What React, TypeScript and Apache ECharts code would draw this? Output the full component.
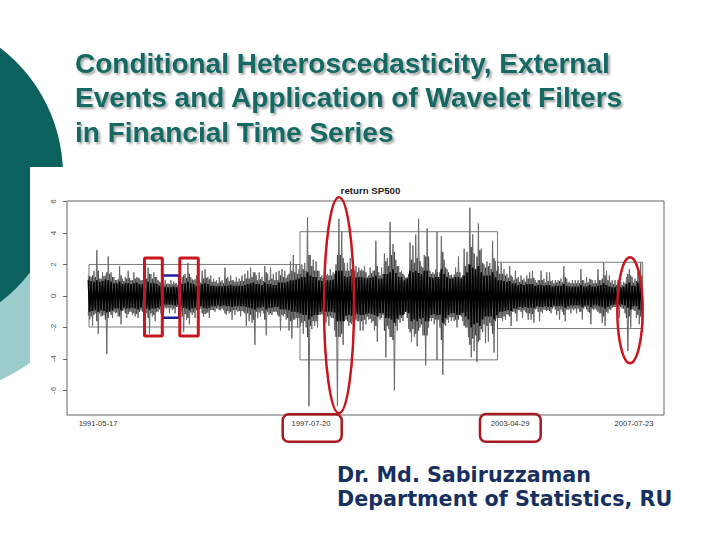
import React, { useEffect, useRef } from "react";
import * as echarts from "echarts";

// Monthly extremes of daily S&P500 returns (%), 1991-05 .. 2007-07
const hiVals: number[] = [
  // 1991 (May-Dec)
  1.3, 1.2, 1.6, 2.9, 1.1, 1.5, 1.3, 2.5,
  // 1992
  1.5, 1.2, 1.0, 1.9, 1.1, 1.2, 1.6, 1.0, 1.5, 1.2, 1.1, 1.0,
  // 1993
  1.3, 1.8, 1.4, 1.5, 1.2, 0.9, 0.9, 1.0, 0.8, 1.0, 0.9, 0.8,
  // 1994
  1.1, 1.2, 1.4, 2.1, 1.2, 1.0, 1.3, 1.0, 1.6, 1.7, 1.2, 1.3,
  // 1995
  1.1, 1.0, 1.2, 1.0, 1.8, 1.2, 1.3, 1.0, 1.2, 1.1, 1.3, 1.4,
  // 1996
  1.6, 1.8, 1.5, 1.3, 1.5, 1.2, 1.9, 1.4, 1.8, 1.4, 1.5, 1.6,
  // 1997
  1.7, 1.6, 1.3, 2.2, 2.6, 2.0, 1.7, 2.0, 2.1, 5.0, 2.6, 2.3,
  // 1998
  2.2, 1.6, 1.3, 1.6, 1.4, 1.7, 1.5, 2.0, 4.9, 4.1, 2.1, 2.1,
  // 1999
  2.4, 1.8, 1.9, 1.8, 1.7, 1.9, 1.2, 1.8, 1.6, 3.5, 1.5, 1.8,
  // 2000
  2.7, 2.4, 4.7, 3.3, 2.3, 1.9, 1.6, 1.3, 1.2, 3.4, 3.2, 3.9,
  // 2001
  4.9, 1.9, 2.6, 4.3, 1.6, 1.5, 1.7, 1.2, 3.8, 2.3, 1.7, 1.3,
  // 2002
  1.2, 1.8, 2.5, 1.2, 3.0, 2.8, 5.6, 3.9, 1.7, 4.6, 3.0, 2.0,
  // 2003
  2.2, 2.1, 3.5, 2.2, 1.9, 2.1, 1.7, 1.4, 1.9, 1.2, 1.6, 1.2,
  // 2004
  1.3, 1.1, 1.3, 1.5, 1.6, 1.0, 1.0, 1.6, 1.1, 1.5, 1.5, 1.0,
  // 2005
  1.0, 1.0, 1.1, 1.9, 1.1, 0.9, 1.0, 1.0, 1.0, 1.7, 1.0, 1.2,
  // 2006
  1.1, 1.0, 1.0, 1.7, 1.0, 2.1, 1.6, 1.3, 1.0, 1.0, 1.0, 0.9,
  // 2007 (Jan-Jul)
  0.9, 1.2, 1.7, 1.2, 1.1, 1.5, 2.1,
];

const loVals: number[] = [
  -1.5, -1.9, -1.1, -2.4, -1.3, -1.2, -3.7, -1.0,
  -1.4, -1.1, -1.3, -1.8, -0.9, -1.4, -1.0, -1.2, -1.3, -1.4, -0.9, -1.2,
  -1.1, -2.4, -1.3, -1.6, -1.0, -1.1, -1.0, -0.8, -1.1, -0.9, -1.1, -0.7,
  -1.0, -2.3, -1.5, -1.8, -1.2, -1.4, -0.9, -0.8, -1.3, -1.1, -1.4, -0.9,
  -1.0, -0.8, -0.9, -0.9, -1.2, -1.1, -1.5, -1.2, -1.0, -1.3, -1.0, -1.9,
  -1.6, -1.7, -3.1, -1.4, -1.3, -1.1, -2.5, -1.2, -1.2, -1.0, -1.2, -2.2,
  -1.3, -1.5, -2.2, -2.7, -1.5, -2.0, -1.9, -2.4, -2.0, -7.0, -2.1, -1.9,
  -2.0, -1.2, -1.2, -1.7, -1.9, -1.4, -2.2, -7.0, -2.6, -3.1, -1.5, -1.9,
  -1.8, -2.1, -1.6, -2.2, -2.2, -1.8, -1.5, -1.7, -2.2, -2.9, -1.5, -1.2,
  -3.9, -2.1, -2.6, -6.0, -2.2, -1.7, -1.6, -1.0, -2.1, -2.9, -2.6, -3.2,
  -2.0, -2.5, -4.4, -2.0, -1.6, -1.8, -1.5, -2.0, -5.0, -1.9, -1.7, -1.6,
  -1.6, -2.0, -1.0, -1.6, -2.0, -2.6, -3.9, -3.5, -4.2, -2.8, -2.3, -3.0,
  -2.9, -1.9, -3.6, -1.4, -1.4, -1.6, -1.5, -1.2, -1.9, -1.0, -1.6, -0.9,
  -1.4, -1.0, -1.5, -1.5, -1.7, -0.8, -1.6, -1.1, -0.9, -0.9, -1.1, -0.7,
  -1.2, -1.5, -1.0, -1.6, -0.9, -1.1, -0.9, -1.1, -1.0, -1.5, -0.7, -1.0,
  -1.8, -0.9, -0.9, -1.1, -1.7, -1.9, -1.1, -0.9, -0.7, -0.6, -1.4, -0.8,
  -1.1, -3.5, -2.0, -0.9, -1.4, -1.8, -2.0,
];

// Typical large move per month (dark-grey hatching)
const midVals: number[] = [
  1.25, 1.3, 1.2, 1.6, 1.1, 1.25, 1.5, 1.4,
  1.2, 1.0, 1.05, 1.3, 0.95, 1.1, 1.15, 1.0, 1.1, 1.15, 1.0, 1.0,
  1.1, 1.4, 1.1, 1.2, 1.0, 0.85, 0.75, 0.75, 0.75, 0.75, 0.8, 0.7,
  0.85, 1.3, 1.15, 1.4, 1.05, 1.05, 0.9, 0.85, 1.1, 1.15, 1.05, 0.9,
  0.9, 0.8, 0.9, 0.8, 1.1, 0.95, 1.0, 0.9, 0.9, 0.95, 0.95, 1.1,
  1.1, 1.2, 1.5, 1.0, 1.05, 0.95, 1.5, 1.0, 1.1, 1.0, 1.0, 1.3,
  1.2, 1.15, 1.4, 1.6, 1.5, 1.4, 1.4, 1.7, 1.6, 2.6, 1.9, 1.6,
  1.6, 1.2, 1.15, 1.3, 1.3, 1.3, 1.4, 2.6, 2.6, 2.4, 1.6, 1.6,
  1.7, 1.6, 1.5, 1.6, 1.6, 1.5, 1.3, 1.45, 1.6, 1.9, 1.3, 1.4,
  2.2, 1.9, 2.6, 2.8, 1.9, 1.5, 1.4, 1.15, 1.4, 2.3, 2.1, 2.4,
  2.2, 1.8, 2.5, 2.5, 1.4, 1.4, 1.5, 1.5, 2.8, 1.8, 1.5, 1.35,
  1.35, 1.5, 1.5, 1.3, 1.9, 2.0, 3.1, 2.7, 2.5, 2.9, 2.1, 1.8,
  1.9, 1.7, 2.4, 1.6, 1.4, 1.4, 1.3, 1.15, 1.3, 1.0, 1.1, 0.9,
  1.0, 0.9, 1.1, 1.1, 1.15, 0.85, 1.0, 1.0, 0.85, 0.95, 0.95, 0.8,
  0.85, 0.95, 0.85, 1.2, 0.85, 0.8, 0.8, 0.8, 0.8, 1.0, 0.8, 0.85,
  1.05, 0.8, 0.8, 1.0, 1.1, 1.3, 1.0, 0.85, 0.75, 0.7, 0.85, 0.7,
  0.8, 1.4, 1.3, 0.85, 0.95, 1.2, 1.3,
];

// Dense (black) core band half-width per month
const coreVals: number[] = [
  1.0, 0.95, 0.9, 1.0, 0.9, 0.95, 1.05, 1.0,
  0.9, 0.8, 0.8, 0.9, 0.75, 0.8, 0.8, 0.75, 0.8, 0.85, 0.75, 0.75,
  0.8, 0.9, 0.8, 0.8, 0.75, 0.65, 0.55, 0.55, 0.55, 0.55, 0.6, 0.55,
  0.6, 0.75, 0.8, 0.9, 0.8, 0.75, 0.65, 0.65, 0.75, 0.8, 0.75, 0.65,
  0.65, 0.6, 0.65, 0.6, 0.65, 0.65, 0.7, 0.65, 0.65, 0.65, 0.65, 0.7,
  0.75, 0.8, 0.85, 0.75, 0.75, 0.7, 0.85, 0.75, 0.75, 0.7, 0.7, 0.85,
  0.85, 0.85, 0.9, 1.0, 1.0, 1.05, 1.1, 1.2, 1.2, 1.5, 1.3, 1.2,
  1.2, 1.0, 0.95, 1.0, 1.0, 1.0, 1.05, 1.6, 1.6, 1.6, 1.25, 1.2,
  1.25, 1.2, 1.15, 1.2, 1.2, 1.15, 1.1, 1.15, 1.2, 1.3, 1.1, 1.1,
  1.4, 1.4, 1.5, 1.7, 1.45, 1.2, 1.2, 1.0, 1.1, 1.6, 1.5, 1.6,
  1.45, 1.4, 1.6, 1.6, 1.2, 1.15, 1.2, 1.2, 1.7, 1.4, 1.2, 1.1,
  1.1, 1.2, 1.2, 1.1, 1.3, 1.5, 2.0, 1.8, 1.7, 1.9, 1.5, 1.3,
  1.3, 1.3, 1.5, 1.2, 1.0, 1.0, 0.95, 0.9, 0.95, 0.8, 0.8, 0.7,
  0.75, 0.7, 0.75, 0.75, 0.75, 0.65, 0.7, 0.7, 0.65, 0.7, 0.7, 0.6,
  0.65, 0.65, 0.65, 0.75, 0.65, 0.6, 0.6, 0.6, 0.6, 0.7, 0.6, 0.6,
  0.7, 0.6, 0.6, 0.65, 0.7, 0.8, 0.7, 0.6, 0.55, 0.55, 0.6, 0.55,
  0.6, 0.75, 0.85, 0.65, 0.65, 0.85, 0.95,
];

// Volatility regimes (decimal years) and their ± bands
const regimeStart: number[] = [1991.375, 1997.55, 2001.56, 2003.33];
const regimeEnd: number[] = [1997.55, 2001.56, 2003.33, 2007.58];
const regimeUpper: number[] = [2.0, 4.08, 4.08, 2.14];
const regimeLower: number[] = [-1.97, -4.06, -4.06, -2.07];

// Axis labels
const dateLabels: string[] = ["1991-05-17", "1997-07-20", "2003-04-29", "2007-07-23"];
const dateLabelPos: number[] = [1991.64, 1997.87, 2003.7, 2007.325];
const yTicks: number[] = [-6, -4, -2, 0, 2, 4, 6];

const titleLines: string[] = [
  "Conditional Heteroscedasticity, External",
  "Events and Application of Wavelet Filters",
  "in Financial Time Series",
];
const authorLines: string[] = ["Dr. Md. Sabiruzzaman", "Department of Statistics, RU"];

const FONT = "'Liberation Sans', Arial, sans-serif";

export default function App() {
  const ref = useRef<HTMLDivElement>(null);
  useEffect(() => {
    if (!ref.current) return;
    const chart = echarts.init(ref.current, null, { renderer: "svg" });

    const monthX = hiVals.map((_, m) => 1991 + (4 + m + 0.5) / 12);
    const half = 1 / 48;
    const extremes: number[][] = [];
    const mid: number[][] = [];
    const core: number[][] = [];
    monthX.forEach((x, m) => {
      extremes.push([x - half, hiVals[m]]);
      extremes.push([x + half, loVals[m]]);
      mid.push([x - half, -midVals[m]]);
      mid.push([x + half, midVals[m]]);
      core.push([x - half, coreVals[m]]);
      core.push([x + half, -coreVals[m]]);
    });

    const regimeAreas = regimeStart.map((s, i) => [
      { xAxis: s, yAxis: regimeUpper[i] },
      { xAxis: regimeEnd[i], yAxis: regimeLower[i] },
    ]);

    const red = "#c8161e";
    const darkRed = "#a8181e";

    const graphic: any[] = [
      // slide decoration
      {
        type: "sector",
        z: 0,
        silent: true,
        shape: { cx: -97, cy: 175, r: 227, r0: 0, startAngle: 0, endAngle: Math.PI / 2 },
        style: { fill: "#9bcbcb" },
      },
      {
        type: "circle",
        z: 0,
        silent: true,
        shape: { cx: -97, cy: 175, r: 160 },
        style: { fill: "#0b615d" },
      },
      {
        type: "rect",
        z: 0,
        silent: true,
        shape: { x: 30, y: 167, width: 700, height: 380 },
        style: { fill: "#ffffff" },
      },
      // title
      ...titleLines.map((t, i) => ({
        type: "text",
        z: 10,
        silent: true,
        x: 75,
        y: [63, 97.5, 132][i],
        style: {
          text: t,
          fill: "#136864",
          font: "bold 28px 'Liberation Sans', Arial, sans-serif",
          verticalAlign: "middle",
          textShadowColor: "rgba(0,0,0,0.35)",
          textShadowBlur: 2,
          textShadowOffsetX: 2,
          textShadowOffsetY: 2,
        },
      })),
      // author
      ...authorLines.map((t, i) => ({
        type: "text",
        z: 10,
        silent: true,
        x: 337,
        y: [475, 499][i],
        style: {
          text: t,
          fill: "#17305f",
          font: "bold 20.7px 'DejaVu Sans', Verdana, sans-serif",
          verticalAlign: "middle",
        },
      })),
      // annotations
      {
        type: "rect",
        z: 20,
        silent: true,
        shape: { x: 162.3, y: 275.5, width: 17, height: 42.2 },
        style: { fill: "none", stroke: "#1d1e9e", lineWidth: 2.5 },
      },
      {
        type: "rect",
        z: 21,
        silent: true,
        shape: { x: 144.5, y: 258, width: 17.8, height: 78, r: 1 },
        style: { fill: "none", stroke: red, lineWidth: 3 },
      },
      {
        type: "rect",
        z: 21,
        silent: true,
        shape: { x: 179.8, y: 258, width: 18.5, height: 78, r: 1 },
        style: { fill: "none", stroke: red, lineWidth: 3 },
      },
      {
        type: "ellipse",
        z: 21,
        silent: true,
        shape: { cx: 339, cy: 305.3, rx: 15, ry: 108 },
        style: { fill: "none", stroke: red, lineWidth: 2.5 },
      },
      {
        type: "ellipse",
        z: 21,
        silent: true,
        shape: { cx: 630, cy: 310.3, rx: 12.7, ry: 53 },
        style: { fill: "none", stroke: red, lineWidth: 2.5 },
      },
      {
        type: "rect",
        z: 21,
        silent: true,
        shape: { x: 282.7, y: 414.3, width: 59, height: 27.5, r: 6 },
        style: { fill: "none", stroke: darkRed, lineWidth: 2.5 },
      },
      {
        type: "rect",
        z: 21,
        silent: true,
        shape: { x: 480, y: 414, width: 60.7, height: 27.8, r: 6 },
        style: { fill: "none", stroke: darkRed, lineWidth: 2.5 },
      },
    ];

    chart.setOption({
      animation: false,
      backgroundColor: "#ffffff",
      title: {
        text: "return SP500",
        left: 365.5,
        top: 180,
        textAlign: "center",
        textStyle: { fontSize: 9.7, fontWeight: "bold", color: "#222", fontFamily: FONT },
      },
      grid: {
        left: 67,
        top: 201,
        width: 597,
        height: 214,
        show: true,
        z: 3,
        borderColor: "#666",
        borderWidth: 1,
        backgroundColor: "rgba(0,0,0,0)",
      },
      xAxis: {
        type: "value",
        z: 3,
        min: 1990.731,
        max: 2008.203,
        axisLine: { show: false },
        axisTick: { show: false },
        splitLine: { show: false },
        axisLabel: {
          customValues: dateLabelPos,
          margin: 4,
          fontSize: 7.6,
          color: "#333",
          fontFamily: FONT,
          formatter: (v: number) => {
            let best = 0;
            dateLabelPos.forEach((p, i) => {
              if (Math.abs(p - v) < Math.abs(dateLabelPos[best] - v)) best = i;
            });
            return dateLabels[best];
          },
        },
      },
      yAxis: {
        type: "value",
        z: 3,
        min: -7.56,
        max: 6.03,
        axisLine: { show: false },
        splitLine: { show: false },
        axisTick: {
          show: true,
          customValues: yTicks,
          length: 4,
          lineStyle: { color: "#666", width: 1 },
        },
        axisLabel: {
          customValues: yTicks,
          rotate: 90,
          margin: 10,
          fontSize: 8,
          color: "#555",
          fontFamily: FONT,
        },
      },
      series: [
        {
          type: "line",
          data: extremes,
          symbol: "none",
          z: 2,
          lineStyle: { color: "#6a6a6a", width: 1 },
          emphasis: { disabled: true },
          silent: true,
          markArea: {
            silent: true,
            itemStyle: { color: "rgba(0,0,0,0)", borderColor: "#555", borderWidth: 0.8 },
            data: regimeAreas,
          },
        },
        {
          type: "line",
          data: mid,
          symbol: "none",
          z: 3,
          lineStyle: { color: "#333", width: 0.8 },
          emphasis: { disabled: true },
          silent: true,
        },
        {
          type: "line",
          data: core,
          symbol: "none",
          z: 4,
          lineStyle: { color: "#000", width: 1.6 },
          emphasis: { disabled: true },
          silent: true,
        },
      ],
      graphic,
    });
    return () => chart.dispose();
  }, []);
  return (
    <div
      ref={ref}
      style={{ position: "fixed", left: 0, top: 0, width: 720, height: 540 }}
    />
  );
}
